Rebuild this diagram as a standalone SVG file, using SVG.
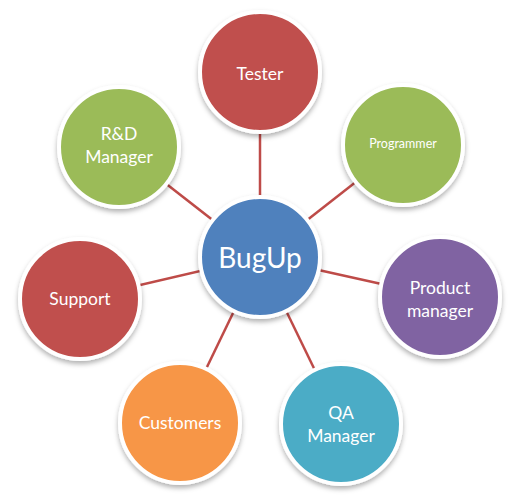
<svg xmlns="http://www.w3.org/2000/svg" width="519" height="501" viewBox="0 0 519 501">
<style>
.c{stroke:#fff;stroke-width:4;filter:url(#sh)}
.t{font-family:Lato,"Open Sans",sans-serif;fill:#fff;text-anchor:middle;dominant-baseline:central;font-size:17.5px}
.l{stroke:#BE4B48;stroke-width:2.5}
</style>
<defs>
<filter id="sh" x="-20%" y="-20%" width="140%" height="150%">
<feDropShadow dx="0" dy="3" stdDeviation="2.5" flood-color="#000" flood-opacity="0.3"/>
</filter>
</defs>
<rect width="519" height="501" fill="#fff"/>
<g id="connectors">
<line class="l" x1="260" y1="257" x2="260" y2="72"/>
<line class="l" x1="260" y1="257" x2="403" y2="145"/>
<line class="l" x1="260" y1="257" x2="440" y2="297"/>
<line class="l" x1="260" y1="257" x2="341" y2="424"/>
<line class="l" x1="260" y1="257" x2="180" y2="423"/>
<line class="l" x1="260" y1="257" x2="80" y2="299"/>
<line class="l" x1="260" y1="257" x2="119" y2="147"/>
</g>
<g id="tester"><circle class="c" cx="260" cy="72" r="60" fill="#C0504D"/><text class="t" x="260" y="73">Tester</text></g>
<g id="programmer"><circle class="c" cx="403" cy="145" r="60" fill="#9BBB59"/><text class="t" x="403" y="143" style="font-size:12.5px">Programmer</text></g>
<g id="product"><circle class="c" cx="440" cy="297" r="60" fill="#8064A2"/><text class="t" x="440" y="287">Product</text><text class="t" x="440" y="310">manager</text></g>
<g id="qa"><circle class="c" cx="341" cy="424" r="60" fill="#4BACC6"/><text class="t" x="341" y="412">QA</text><text class="t" x="341" y="435">Manager</text></g>
<g id="customers"><circle class="c" cx="180" cy="423" r="60" fill="#F79646"/><text class="t" x="180" y="422">Customers</text></g>
<g id="support"><circle class="c" cx="80" cy="299" r="60" fill="#C0504D"/><text class="t" x="80" y="298">Support</text></g>
<g id="rd"><circle class="c" cx="119" cy="147" r="60" fill="#9BBB59"/><text class="t" x="119" y="133">R&amp;D</text><text class="t" x="119" y="156">Manager</text></g>
<g id="bugup"><circle class="c" cx="260" cy="257" r="60" fill="#4F81BD"/><text class="t" x="260" y="257" style="font-size:28px">BugUp</text></g>
</svg>
